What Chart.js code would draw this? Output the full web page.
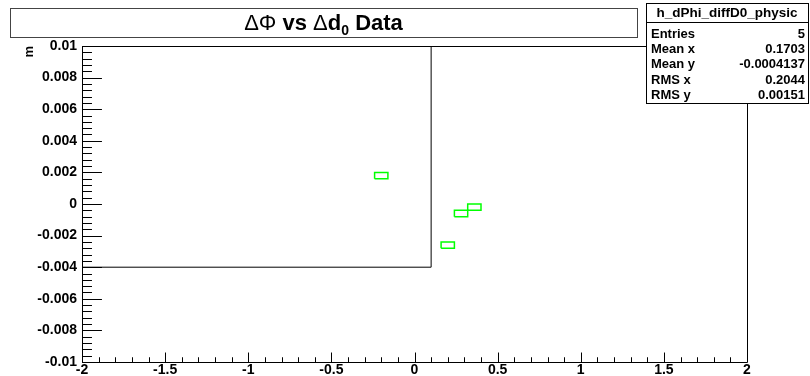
<!DOCTYPE html>
<html>
<head>
<meta charset="utf-8">
<script src="https://cdn.jsdelivr.net/npm/chart.js@4/dist/chart.umd.min.js"></script>
<style>
  html, body { margin: 0; padding: 0; background: #fff; }
  #wrap { width: 810px; height: 376px; }
</style>
</head>
<body>
<div id="wrap"><canvas id="histCanvas"></canvas></div>
<script>
// histogram binning of h_dPhi_diffD0_physic
var xRange = [-2, 2];
var yRange = [-0.01, 0.01];
var xBinCount = 50;
var yBinCount = 50;

// filled bins (bin centres)
var binCenterX = [-0.2, 0.2, 0.28, 0.36];
var binCenterY = [0.0018, -0.0026, -0.0006, -0.0002];

// old frame box left on the pad
var overlayBoxX = [-2, 0.1];
var overlayBoxY = [-0.004, 0.01];

// axis ticks
var xMajorTicks = [-2, -1.5, -1, -0.5, 0, 0.5, 1, 1.5, 2];
var xTickLabels = ['-2', '-1.5', '-1', '-0.5', '0', '0.5', '1', '1.5', '2'];
var yMajorTicks = [-0.01, -0.008, -0.006, -0.004, -0.002, 0, 0.002, 0.004, 0.006, 0.008, 0.01];
var yTickLabels = ['-0.01', '-0.008', '-0.006', '-0.004', '-0.002', '0', '0.002', '0.004', '0.006', '0.008', '0.01'];
var minorPerMajor = 5;

// stats box
var statTitle = 'h_dPhi_diffD0_physic';
var statNames = ['Entries', 'Mean x', 'Mean y', 'RMS x', 'RMS y'];
var statValues = ['5', '0.1703', '-0.0004137', '0.2044', '0.00151'];

var FONT = '"Liberation Sans", Arial, Helvetica, sans-serif';

function withMinor(majors) {
    var out = [];
    for (var i = 0; i < majors.length - 1; i++) {
        for (var k = 0; k < minorPerMajor; k++) {
            var v = majors[i] + (majors[i + 1] - majors[i]) * k / minorPerMajor;
            out.push(Math.round(v * 1e9) / 1e9);
        }
    }
    out.push(majors[majors.length - 1]);
    return out;
}

function majorIndex(majors, v) {
    for (var i = 0; i < majors.length; i++) {
        if (Math.abs(majors[i] - v) < 1e-9) return i;
    }
    return -1;
}

// one closed outline per filled bin
var binW = (xRange[1] - xRange[0]) / xBinCount;
var binH = (yRange[1] - yRange[0]) / yBinCount;
var datasets = binCenterX.map(function (cx, i) {
    var cy = binCenterY[i];
    return {
        data: [
            { x: cx - binW / 2, y: cy - binH / 2 },
            { x: cx + binW / 2, y: cy - binH / 2 },
            { x: cx + binW / 2, y: cy + binH / 2 },
            { x: cx - binW / 2, y: cy + binH / 2 },
            { x: cx - binW / 2, y: cy - binH / 2 }
        ],
        showLine: true,
        borderColor: '#00ff00',
        borderWidth: 1.5,
        pointRadius: 0,
        fill: false,
        tension: 0
    };
});

datasets.push({
    data: [
        { x: overlayBoxX[0], y: overlayBoxY[0] },
        { x: overlayBoxX[1], y: overlayBoxY[0] },
        { x: overlayBoxX[1], y: overlayBoxY[1] },
        { x: overlayBoxX[0], y: overlayBoxY[1] },
        { x: overlayBoxX[0], y: overlayBoxY[0] }
    ],
    showLine: true,
    borderColor: '#000',
    borderWidth: 1,
    pointRadius: 0,
    fill: false,
    tension: 0
});

// frame and inward ROOT-style ticks
var frameTicks = {
    id: 'frameTicks',
    afterDatasetsDraw: function (chart) {
        var ctx = chart.ctx, a = chart.chartArea;
        var xs = chart.scales.x, ys = chart.scales.y;
        var h = a.bottom - a.top, w = a.right - a.left;
        ctx.save();
        ctx.strokeStyle = '#000';
        ctx.lineWidth = 1;
        ctx.beginPath();
        ctx.rect(Math.round(a.left) + 0.5, Math.round(a.top) + 0.5,
                 Math.round(w), Math.round(h));
        xs.ticks.forEach(function (t) {
            var px = Math.round(xs.getPixelForValue(t.value)) + 0.5;
            var len = majorIndex(xMajorTicks, t.value) >= 0 ? 0.03 * h : 0.015 * h;
            ctx.moveTo(px, a.bottom);
            ctx.lineTo(px, a.bottom - len);
        });
        ys.ticks.forEach(function (t) {
            var py = Math.round(ys.getPixelForValue(t.value)) + 0.5;
            var len = majorIndex(yMajorTicks, t.value) >= 0 ? 0.03 * w : 0.015 * w;
            ctx.moveTo(a.left, py);
            ctx.lineTo(a.left + len, py);
        });
        ctx.stroke();
        ctx.restore();
    },
    afterDraw: function (chart) {
        var ctx = chart.ctx;
        ctx.save();

        // stats box
        var sx = 646, sy = 3, sw = 162, sh = 100;
        ctx.fillStyle = '#fff';
        ctx.fillRect(sx, sy, sw, sh);
        ctx.strokeStyle = '#000';
        ctx.lineWidth = 1;
        ctx.strokeRect(sx + 0.5, sy + 0.5, sw, sh);
        ctx.beginPath();
        ctx.moveTo(sx, sy + 19.5);
        ctx.lineTo(sx + sw, sy + 19.5);
        ctx.stroke();
        ctx.fillStyle = '#000';
        ctx.textBaseline = 'middle';
        ctx.font = 'bold 13.5px ' + FONT;
        ctx.textAlign = 'center';
        ctx.fillText(statTitle, sx + sw / 2, 13);
        ctx.font = 'bold 13px ' + FONT;
        var rowY = [34, 49.5, 64.5, 80, 95];
        statNames.forEach(function (n, i) {
            ctx.textAlign = 'left';
            ctx.fillText(n, sx + 5, rowY[i]);
            ctx.textAlign = 'right';
            ctx.fillText(statValues[i], sx + sw - 3, rowY[i]);
        });

        // title box
        var tx = 10, ty = 8, tw = 627, th = 29;
        ctx.fillStyle = '#fff';
        ctx.fillRect(tx, ty, tw, th);
        ctx.strokeStyle = '#444';
        ctx.strokeRect(tx + 0.5, ty + 0.5, tw, th);
        var big = 22, sub = 14;
        var parts = [
            { t: '\u0394\u03a6', f: big + 'px ' + FONT, dy: 0 },
            { t: ' vs ', f: 'bold ' + big + 'px ' + FONT, dy: 0 },
            { t: '\u0394', f: big + 'px ' + FONT, dy: 0 },
            { t: 'd', f: 'bold ' + big + 'px ' + FONT, dy: 0 },
            { t: '0', f: 'bold ' + sub + 'px ' + FONT, dy: 5 },
            { t: ' Data', f: 'bold ' + big + 'px ' + FONT, dy: 0 }
        ];
        var total = 0;
        parts.forEach(function (p) { ctx.font = p.f; p.w = ctx.measureText(p.t).width; total += p.w; });
        var x = tx + tw / 2 - total / 2, base = 29.5;
        ctx.fillStyle = '#000';
        ctx.textAlign = 'left';
        ctx.textBaseline = 'alphabetic';
        parts.forEach(function (p) {
            ctx.font = p.f;
            ctx.fillText(p.t, x, base + p.dy);
            x += p.w;
        });
        ctx.restore();
    }
};

var ctx = document.getElementById('histCanvas').getContext('2d');
var histChart = new Chart(ctx, {
    type: 'scatter',
    data: { datasets: datasets },
    options: {
        responsive: true,
        maintainAspectRatio: false,
        animation: false,
        layout: { padding: { top: 46, right: 63, left: 22, bottom: 0 } },
        plugins: {
            legend: { display: false },
            tooltip: { enabled: false }
        },
        scales: {
            x: {
                type: 'linear',
                min: xRange[0],
                max: xRange[1],
                grid: { display: false, drawTicks: false },
                border: { display: false },
                afterBuildTicks: function (scale) {
                    scale.ticks = withMinor(xMajorTicks).map(function (v) { return { value: v }; });
                },
                afterFit: function (scale) { scale.height = 14; },
                ticks: {
                    autoSkip: false,
                    maxRotation: 0,
                    minRotation: 0,
                    padding: 0,
                    color: '#000',
                    font: { family: FONT, size: 14, weight: 'bold' },
                    callback: function (value) {
                        var i = majorIndex(xMajorTicks, value);
                        return i < 0 ? '' : xTickLabels[i];
                    }
                }
            },
            y: {
                type: 'linear',
                min: yRange[0],
                max: yRange[1],
                grid: { display: false, drawTicks: false },
                border: { display: false },
                afterBuildTicks: function (scale) {
                    scale.ticks = withMinor(yMajorTicks).map(function (v) { return { value: v }; });
                },
                afterFit: function (scale) { scale.width = 60; },
                title: {
                    display: true,
                    text: 'm',
                    align: 'end',
                    color: '#000',
                    padding: 0,
                    font: { family: FONT, size: 13, weight: 'bold' }
                },
                ticks: {
                    autoSkip: false,
                    padding: 5,
                    color: '#000',
                    font: { family: FONT, size: 14, weight: 'bold' },
                    callback: function (value) {
                        var i = majorIndex(yMajorTicks, value);
                        return i < 0 ? '' : yTickLabels[i];
                    }
                }
            }
        }
    },
    plugins: [frameTicks]
});
</script>
</body>
</html>
